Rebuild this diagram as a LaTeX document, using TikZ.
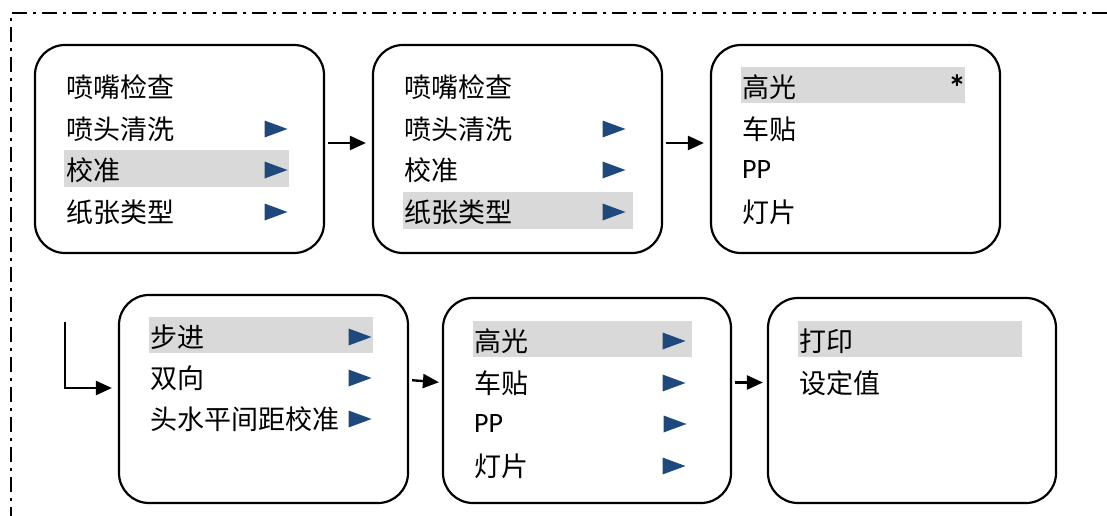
\documentclass[tikz,border=0pt]{standalone}
\usepackage{fontspec}
\setmainfont{Carlito}
\newfontfamily\cjk{Noto Sans CJK SC}
\usetikzlibrary{arrows.meta}
\definecolor{hl}{RGB}{217,217,217}
\definecolor{tri}{RGB}{31,73,125}
\begin{document}
\begin{tikzpicture}[x=1pt,y=-1pt,
  menubox/.style={draw=black,line width=2.2pt,rounded corners=30pt,minimum width=289pt,minimum height=208pt,inner sep=0pt},
  item/.style={anchor=west,inner sep=0pt,font=\cjk\fontsize{27}{30}\selectfont},
  latin/.style={anchor=west,inner sep=0pt,font=\fontsize{28}{30}\selectfont},
  hlbar/.style={fill=hl,draw=none},
  conn/.style={line width=2.4pt,-{Triangle[length=16pt,width=14pt]}},
  pics/playtri/.style={code={\fill[tri] (-11.5,-8.5)--(11.5,0)--(-11.5,8.5)--cycle;}}
]
\useasboundingbox (0,0) rectangle (1107,516);
% outer dash-dot frame
\draw[line width=1.5pt,dash pattern=on 15pt off 6pt on 3pt off 6pt] (1107,13) -- (11,13) -- (11,516);

% boxes
\node[menubox] (b1) at (179.5,149) {};
\node[menubox] (b2) at (517.5,149) {};
\node[menubox] (b3) at (855.5,149) {};
\node[menubox] (b4) at (263.5,399) {};
\node[menubox,minimum width=288pt,minimum height=205pt] (b5) at (587,400.5) {};
\node[menubox,minimum width=288pt,minimum height=205pt] (b6) at (912,400.5) {};

% highlights
\fill[hlbar] (64,150) rectangle (289,187);
\fill[hlbar] (403,192) rectangle (633,229);
\fill[hlbar] (741,67) rectangle (965,103);
\fill[hlbar] (149,317) rectangle (373,353);
\fill[hlbar] (473,321) rectangle (692,357);
\fill[hlbar] (798,321) rectangle (1022,357);

% box 1
\node[item] (b1r1) at (66,87) {喷嘴检查};
\node[item] (b1r2) at (66,129) {喷头清洗};
\node[item] (b1r3) at (66,170) {校准};
\node[item] (b1r4) at (66,212) {纸张类型};
\pic at (276,129) {playtri};
\pic at (276,170) {playtri};
\pic at (276,212) {playtri};

% box 2
\node[item] (b2r1) at (404,87) {喷嘴检查};
\node[item] (b2r2) at (404,129) {喷头清洗};
\node[item] (b2r3) at (404,170) {校准};
\node[item] (b2r4) at (404,212) {纸张类型};
\pic at (614,129) {playtri};
\pic at (614,170) {playtri};
\pic at (614,212) {playtri};

% box 3
\node[item] (b3r1) at (742,87) {高光};
\node[item] (b3r2) at (742,129) {车贴};
\node[latin] (b3r3) at (742,170) {PP};
\node[item] (b3r4) at (742,212) {灯片};
\node[inner sep=0pt,font=\bfseries\fontsize{36}{36}\selectfont] (b3star) at (957,88) {*};

% box 4
\node[item] (b4r1) at (150,337) {步进};
\node[item] (b4r2) at (150,378) {双向};
\node[item] (b4r3) at (150,419) {头水平间距校准};
\pic at (360,337) {playtri};
\pic at (360,378) {playtri};
\pic at (360,419) {playtri};

% box 5
\node[item] (b5r1) at (474,341) {高光};
\node[item] (b5r2) at (474,383) {车贴};
\node[latin] (b5r3) at (474,424) {PP};
\node[item] (b5r4) at (474,466) {灯片};
\pic at (674,341) {playtri};
\pic at (674,383) {playtri};
\pic at (675,424) {playtri};
\pic at (674,466) {playtri};

% box 6
\node[item] (b6r1) at (799,341) {打印};
\node[item] (b6r2) at (799,383) {设定值};

% connectors
\draw[conn,shorten <=3pt,shorten >=6pt] ([yshift=6pt]b1.east) -- ([yshift=6pt]b2.west);
\draw[conn,shorten <=3pt,shorten >=6pt] ([yshift=6pt]b2.east) -- ([yshift=6pt]b3.west);
\coordinate (lstart) at (65,322);
\draw[conn,shorten >=6pt] (lstart) |- ([yshift=11pt]b4.west);
\draw[conn,shorten <=3pt,shorten >=3pt] ([yshift=19pt]b4.east) -- ([yshift=18pt]b5.west);
\draw[conn,shorten <=3pt,shorten >=4pt] ([yshift=18pt]b5.east) -- ([yshift=18pt]b6.west);
\end{tikzpicture}
\end{document}
